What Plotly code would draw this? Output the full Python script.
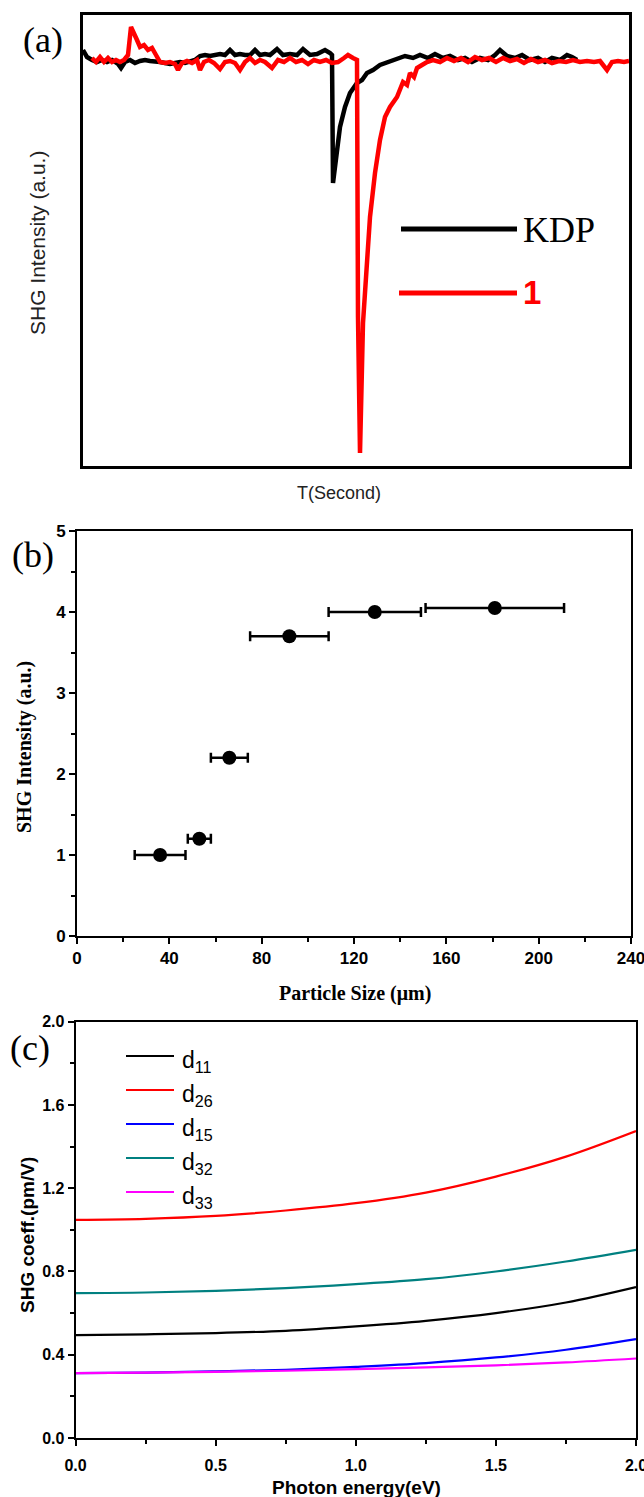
import plotly.graph_objects as go

W, H = 644, 1497

# ---------------- Panel (a): SHG signal vs time (arbitrary units) ----------------
kdp_t = [0, 4, 9, 14, 19, 24, 29, 35, 38, 42, 47, 52, 57, 62, 67, 72, 77, 82, 87, 92, 97, 102,
         107, 112, 117, 122, 127, 132, 137, 142, 147, 152, 157, 162, 167, 172, 177, 182, 187,
         194, 200, 207, 214, 220, 227, 234, 242, 247, 249, 250, 254, 257, 262, 267, 274, 279,
         284, 290, 297, 305, 314, 322, 330, 337, 345, 352, 360, 367, 375, 382, 389, 397, 405,
         412, 417, 424, 432, 439, 447, 455, 462, 469, 477, 484, 489, 494]
kdp_i = [416, 409, 406, 404, 406, 404, 406, 402, 398, 404, 406, 403, 405, 406, 405, 405, 404,
         403, 402, 403, 404, 403, 404, 406, 410, 411, 410, 411, 412, 411, 416, 411, 412, 411,
         411, 416, 411, 412, 411, 417, 411, 412, 411, 417, 411, 412, 416, 413, 411, 283, 316,
         339, 359, 373, 383, 386, 393, 396, 401, 404, 408, 410, 408, 411, 408, 412, 408, 410,
         406, 408, 404, 408, 406, 411, 416, 410, 408, 411, 406, 408, 404, 408, 406, 411, 409, 406]

s1_t = [9, 13, 17, 21, 25, 29, 33, 37, 41, 45, 48, 51, 54, 57, 61, 65, 69, 73, 77, 82, 87, 92,
        95, 99, 104, 109, 114, 117, 121, 126, 131, 137, 142, 147, 152, 157, 162, 167, 172, 177,
        182, 189, 195, 201, 207, 213, 219, 225, 231, 237, 243, 249, 255, 261, 265, 270, 274, 275,
        277, 280, 284, 287, 292, 297, 302, 307, 314, 320, 324, 327, 331, 334, 339, 344, 350, 357,
        364, 371, 378, 385, 392, 399, 406, 413, 420, 427, 434, 441, 448, 455, 462, 469, 476, 483,
        490, 497, 504, 511, 517, 524, 529, 535, 541, 546]
s1_i = [408, 404, 409, 404, 408, 404, 406, 404, 406, 411, 439, 431, 426, 419, 421, 416, 418, 411,
        404, 403, 404, 402, 396, 403, 405, 403, 406, 396, 404, 406, 403, 397, 404, 405, 403, 396,
        404, 408, 403, 406, 404, 398, 406, 404, 408, 404, 406, 402, 406, 404, 406, 403, 404, 408,
        411, 408, 406, 149, 13, 143, 209, 249, 293, 326, 349, 359, 369, 384, 381, 393, 389, 398,
        401, 404, 406, 404, 408, 405, 408, 404, 409, 406, 408, 404, 408, 405, 407, 403, 407, 404,
        406, 403, 405, 404, 406, 404, 405, 404, 405, 396, 404, 405, 404, 405]

# ---------------- Panel (b): SHG intensity vs particle size ----------------
size_um = [36, 53, 66, 92, 129, 181]
size_err = [11, 5, 8, 17, 20, 30]
shg_int = [1.0, 1.2, 2.2, 3.7, 4.0, 4.05]

# ---------------- Panel (c): SHG coefficients vs photon energy ----------------
energy = [0.0, 0.25, 0.5, 0.75, 1.0, 1.25, 1.5, 1.75, 2.0]
d11 = [0.494, 0.498, 0.504, 0.515, 0.536, 0.563, 0.600, 0.651, 0.725]
d26 = [1.048, 1.053, 1.067, 1.093, 1.128, 1.179, 1.256, 1.352, 1.475]
d15 = [0.312, 0.314, 0.320, 0.328, 0.342, 0.360, 0.387, 0.424, 0.475]
d32 = [0.696, 0.699, 0.707, 0.720, 0.739, 0.763, 0.800, 0.848, 0.904]
d33 = [0.312, 0.314, 0.318, 0.323, 0.331, 0.339, 0.349, 0.363, 0.382]
c_names = ["d<sub>11</sub>", "d<sub>26</sub>", "d<sub>15</sub>", "d<sub>32</sub>", "d<sub>33</sub>"]
c_series = [d11, d26, d15, d32, d33]
c_colors = ["#000000", "#ff0000", "#0000ff", "#008080", "#ff00ff"]


def px(x):
    return x / W


def py(y):
    return 1 - y / H


fig = go.Figure()

# Panel a traces
fig.add_trace(go.Scatter(x=kdp_t, y=kdp_i, mode="lines", line=dict(color="black", width=4.5),
                         xaxis="x", yaxis="y", showlegend=False))
fig.add_trace(go.Scatter(x=s1_t, y=s1_i, mode="lines", line=dict(color="#ff0000", width=4.5),
                         xaxis="x", yaxis="y", showlegend=False))

# Panel b trace
fig.add_trace(go.Scatter(x=size_um, y=shg_int, mode="markers",
                         marker=dict(color="black", size=14),
                         error_x=dict(type="data", array=size_err, visible=True,
                                      color="black", thickness=2.5, width=5),
                         xaxis="x2", yaxis="y2", showlegend=False))

# Panel c traces
for vals, col in zip(c_series, c_colors):
    fig.add_trace(go.Scatter(x=energy, y=vals, mode="lines", line=dict(color=col, width=2.2, shape="spline"),
                             xaxis="x3", yaxis="y3", showlegend=False))

sans = "Liberation Sans, Arial, sans-serif"
serif = "Liberation Serif, Times New Roman, serif"

frame_a = dict(showline=True, mirror=True, linewidth=3, linecolor="black", ticks="",
               showticklabels=False, showgrid=False, zeroline=False, automargin=False)


def num_axis(**kw):
    base = dict(showline=True, mirror=True, linewidth=2, linecolor="black", ticks="outside",
                ticklen=6, tickwidth=2, tickcolor="black", showgrid=False, zeroline=False,
                automargin=False, ticklabeloverflow="allow")
    base.update(kw)
    return base


fig.update_layout(
    width=W, height=H, margin=dict(l=0, r=0, t=0, b=0, autoexpand=False),
    paper_bgcolor="white", plot_bgcolor="white", showlegend=False,
    xaxis=dict(domain=[px(83), px(629)], range=[0, 546], anchor="y", **frame_a),
    yaxis=dict(domain=[py(466), py(15)], range=[0, 451], anchor="x", **frame_a),
    xaxis2=num_axis(domain=[px(77), px(631)], range=[0, 240], anchor="y2", dtick=40, tick0=0,
                    tickfont=dict(family=sans, size=17, color="black", weight="bold"),
                    minor=dict(dtick=20, ticklen=4, tickwidth=2, ticks="outside", tickcolor="black")),
    yaxis2=num_axis(domain=[py(936), py(531)], range=[0, 5], anchor="x2", dtick=1, tick0=0,
                    tickfont=dict(family=sans, size=17, color="black", weight="bold"),
                    minor=dict(dtick=0.5, ticklen=4, tickwidth=2, ticks="outside", tickcolor="black")),
    xaxis3=num_axis(domain=[px(75.6), px(636)], range=[0, 2], anchor="y3", dtick=0.5, tick0=0,
                    tickformat=".1f", ticklabelstandoff=6,
                    tickfont=dict(family=sans, size=16, color="black", weight="bold"),
                    minor=dict(dtick=0.25, ticklen=4, tickwidth=2, ticks="outside", tickcolor="black")),
    yaxis3=num_axis(domain=[py(1438), py(1021.7)], range=[0, 2], anchor="x3", dtick=0.4, tick0=0,
                    tickformat=".1f",
                    tickfont=dict(family=sans, size=16, color="black", weight="bold"),
                    minor=dict(dtick=0.2, ticklen=4, tickwidth=2, ticks="outside", tickcolor="black")),
)

ann = []


def add_text(text, x, y, font, xanchor="center", yanchor="middle", angle=0):
    ann.append(dict(text=text, x=px(x), y=py(y), xref="paper", yref="paper", showarrow=False,
                    xanchor=xanchor, yanchor=yanchor, textangle=angle, font=font))


# Panel labels
add_text("(a)", 43, 40, dict(family=serif, size=36, color="black"))
add_text("(b)", 33, 555, dict(family=serif, size=36, color="black"))
add_text("(c)", 30, 1048, dict(family=serif, size=36, color="black"))

# Panel a titles & legend
add_text("SHG Intensity (a.u.)", 37, 243, dict(family=sans, size=21, color="#222222"), angle=-90)
add_text("T(Second)", 339, 493, dict(family=sans, size=18, color="#222222"))
add_text("KDP", 521, 230, dict(family=serif, size=36, color="black"), xanchor="left")
add_text("<b>1</b>", 521, 293, dict(family=sans, size=33, color="#ff0000"), xanchor="left")

shapes = [
    dict(type="line", xref="paper", yref="paper", x0=px(401), x1=px(517), y0=py(229), y1=py(229),
         line=dict(color="black", width=5)),
    dict(type="line", xref="paper", yref="paper", x0=px(399), x1=px(517), y0=py(293), y1=py(293),
         line=dict(color="#ff0000", width=5)),
]

# Panel b titles
add_text("<b>SHG Intensity (a.u.)</b>", 25, 747, dict(family=serif, size=20, color="black"), angle=-90)
add_text("<b>Particle Size (μm)</b>", 355, 993, dict(family=serif, size=20, color="black"))

# Panel c titles & legend
add_text("<b>SHG coeff.(pm/V)</b>", 27, 1235, dict(family=sans, size=19, color="black"), angle=-90)
add_text("<b>Photon energy(eV)</b>", 356, 1487, dict(family=sans, size=19, color="black"))

leg_y = [1056, 1090, 1124, 1158, 1192]
for name, col, ly in zip(c_names, c_colors, leg_y):
    shapes.append(dict(type="line", xref="paper", yref="paper", x0=px(126), x1=px(174),
                       y0=py(ly), y1=py(ly), line=dict(color=col, width=2.2)))
    add_text(name, 180, ly + 5, dict(family=sans, size=23, color="black"), xanchor="left")

fig.update_layout(annotations=ann, shapes=shapes)

fig.write_html("out.html")
